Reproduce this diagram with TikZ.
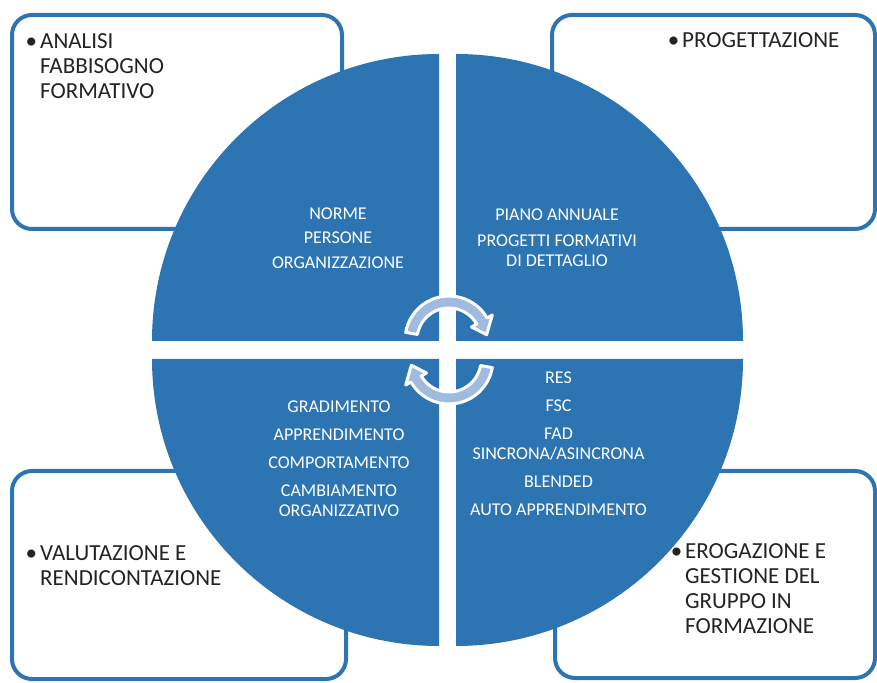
\documentclass[tikz,border=0pt]{standalone}
\usepackage{fontspec}
\setmainfont{Carlito}
\usepackage{xcolor}
\usetikzlibrary{positioning}

\definecolor{cycleblue}{RGB}{44,117,178}
\definecolor{arrowblue}{RGB}{160,186,224}
\definecolor{labelgray}{RGB}{35,35,35}

\begin{document}
\begin{tikzpicture}[
    x=1pt, y=1pt,
    phase/.style={draw=cycleblue, line width=4pt, rounded corners=20pt,
                  outer sep=0pt, inner sep=0pt},
    phaselabel/.style={font=\fontsize{23}{25}\selectfont, text=labelgray,
                       align=left, inner sep=0pt, anchor=north west},
    quadrant/.style={fill=cycleblue},
    items/.style={font=\fontsize{18}{20}\selectfont, text=white,
                  align=center, inner sep=0pt},
    cyclearrow/.style={fill=arrowblue, draw=white, line width=3pt, line join=round},
  ]
  \useasboundingbox (0,0) rectangle (877,682);

  % Corner boxes
  \node[phase, minimum width=330pt, minimum height=214pt] (fabb) at (177,560) {};
  \node[phase, minimum width=323pt, minimum height=214pt] (prog) at (713.5,560) {};
  \node[phase, minimum width=334pt, minimum height=208pt] (valut) at (179,107) {};
  \node[phase, minimum width=320pt, minimum height=207pt] (erog) at (715,107.5) {};

  % Box labels
  \node[phaselabel, below right=18pt and 28pt of fabb.north west] (fabbtxt)
    {\llap{\textbullet\hspace{3pt}}ANALISI\\FABBISOGNO\\FORMATIVO};
  \node[phaselabel, below right=17pt and 130pt of prog.north west] (progtxt)
    {\llap{\textbullet\hspace{3pt}}PROGETTAZIONE};
  \node[phaselabel, below right=74pt and 28pt of valut.north west] (valuttxt)
    {\llap{\textbullet\hspace{3pt}}VALUTAZIONE E\\RENDICONTAZIONE};
  \node[phaselabel, below right=72pt and 130pt of erog.north west] (erogtxt)
    {\llap{\textbullet\hspace{3pt}}EROGAZIONE E\\GESTIONE DEL\\GRUPPO IN\\FORMAZIONE};

  % Circle in four quarters
  \foreach \cx/\cy/\a in {439/341/90, 456/341/0, 439/323/180, 456/323/270}
    \fill[quadrant] (\cx,\cy) -- ++(\a:287) arc[start angle=\a, delta angle=90, radius=287] -- cycle;

  % Quarter contents
  \node[items] (inputs) at (338,444) {NORME\\[4.5pt]PERSONE\\[4.5pt]ORGANIZZAZIONE};
  \node[items] (piani) at (557,444) {PIANO ANNUALE\\[6pt]PROGETTI FORMATIVI\\DI DETTAGLIO};
  \node[items] (livelli) at (339,223) {GRADIMENTO\\[8pt]APPRENDIMENTO\\[8pt]COMPORTAMENTO\\[8pt]CAMBIAMENTO\\ORGANIZZATIVO};
  \node[items] (modalita) at (558.5,238) {RES\\[8pt]FSC\\[8pt]FAD\\SINCRONA/ASINCRONA\\[8pt]BLENDED\\[8pt]AUTO APPRENDIMENTO};

  % Cycle arrows
  \foreach \cx/\cy/\turn in {449/342/0, 449/322/180}
    \path[cyclearrow, shift={(\cx,\cy)}, rotate=\turn]
      (170:32) arc[start angle=170, end angle=30, radius=32] -- (30:26) -- (8:38)
      -- (30:50) -- (30:44) arc[start angle=30, end angle=170, radius=44] -- cycle;

\end{tikzpicture}
\end{document}
